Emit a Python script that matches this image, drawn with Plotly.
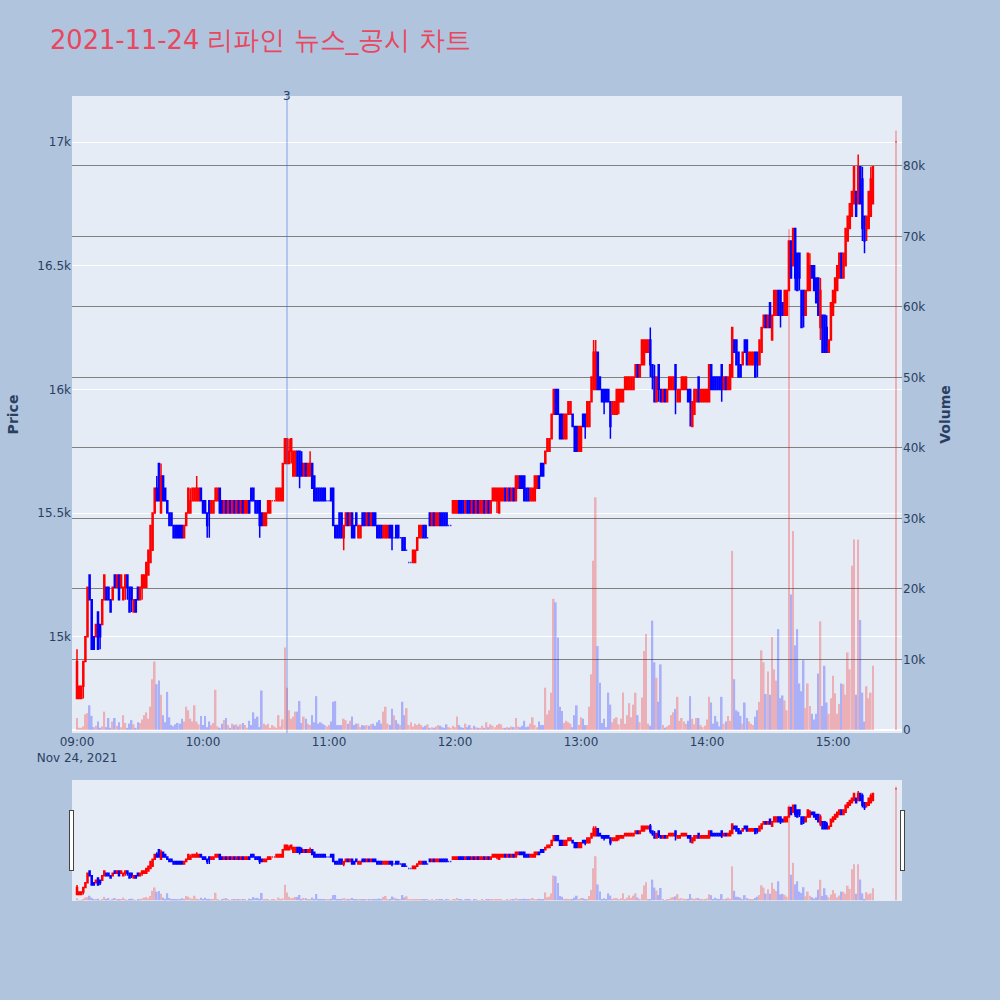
import pandas as pd
import plotly.graph_objects as go

title_text = "2021-11-24 리파인 뉴스_공시 차트"
news_time = "2021-11-24 10:40"
news_label = "3"

# 1-minute bars 09:00-15:19 plus the 15:30 closing auction
times = list(pd.date_range("2021-11-24 09:00", periods=380, freq="min")) + [pd.Timestamp("2021-11-24 15:30")]

opens = [
    14750, 14750, 14750, 14800, 14900, 15000, 15250, 15150, 15000, 15000,
    15100, 15050, 15050, 15150, 15200, 15200, 15150, 15150, 15250, 15200,
    15250, 15200, 15150, 15200, 15250, 15200, 15200, 15100, 15150, 15200,
    15150, 15200, 15200, 15200, 15250, 15300, 15350, 15500, 15600, 15700,
    15500, 15650, 15600, 15550, 15500, 15500, 15450, 15450, 15450, 15450,
    15450, 15400, 15450, 15500, 15500, 15550, 15550, 15550, 15550, 15600,
    15550, 15550, 15500, 15550, 15500, 15500, 15550, 15550, 15600, 15550,
    15500, 15550, 15500, 15550, 15500, 15550, 15500, 15550, 15500, 15550,
    15500, 15500, 15550, 15600, 15600, 15550, 15550, 15550, 15500, 15450,
    15450, 15500, 15500, 15550, 15550, 15550, 15550, 15550, 15550, 15700,
    15700, 15700, 15750, 15650, 15650, 15750, 15750, 15700, 15650, 15700,
    15650, 15650, 15700, 15650, 15600, 15600, 15600, 15600, 15600, 15550,
    15550, 15600, 15600, 15450, 15450, 15500, 15500, 15400, 15450, 15500,
    15450, 15500, 15450, 15500, 15400, 15400, 15500, 15500, 15450, 15500,
    15450, 15500, 15500, 15450, 15450, 15450, 15400, 15400, 15400, 15450,
    15450, 15400, 15450, 15450, 15400, 15400, 15400, 15350, 15300, 15300,
    15300, 15300, 15350, 15400, 15400, 15450, 15450, 15400, 15500, 15450,
    15500, 15450, 15450, 15500, 15500, 15500, 15500, 15450, 15450, 15500,
    15500, 15500, 15550, 15550, 15550, 15500, 15550, 15550, 15500, 15550,
    15500, 15550, 15500, 15500, 15550, 15500, 15550, 15500, 15550, 15550,
    15550, 15500, 15550, 15550, 15600, 15550, 15600, 15550, 15600, 15550,
    15600, 15650, 15650, 15650, 15600, 15600, 15550, 15550, 15550, 15600,
    15650, 15700, 15700, 15700, 15750, 15750, 15800, 15900, 16000, 16000,
    15900, 15900, 15800, 15800, 15900, 15900, 15900, 15850, 15850, 15750,
    15750, 15900, 15900, 15850, 15850, 15950, 16000, 16000, 16150, 16050,
    16000, 16000, 16000, 16000, 15950, 15900, 15900, 15900, 15950, 15950,
    15950, 16000, 16000, 16000, 16000, 16000, 16050, 16100, 16050, 16100,
    16100, 16150, 16150, 16200, 16100, 16050, 15950, 16100, 16000, 15950,
    16000, 15950, 16000, 16000, 16000, 16100, 15950, 15950, 16000, 16000,
    16000, 16000, 16000, 15850, 15900, 15950, 16050, 15950, 15950, 15950,
    15950, 15950, 16100, 16050, 16050, 16050, 16050, 16100, 16000, 16050,
    16000, 16000, 16050, 16200, 16200, 16150, 16100, 16100, 16200, 16200,
    16100, 16100, 16100, 16150, 16150, 16100, 16150, 16250, 16300, 16250,
    16350, 16200, 16300, 16300, 16400, 16400, 16350, 16300, 16300, 16400,
    16600, 16500, 16650, 16550, 16550, 16400, 16400, 16300, 16400, 16400,
    16500, 16500, 16450, 16450, 16250, 16300, 16300, 16250, 16150, 16200,
    16300, 16350, 16400, 16450, 16550, 16450, 16500, 16600, 16650, 16700,
    16750, 16800, 16750, 16900, 16850, 16700, 16650, 16650, 16700, 16750,
    17000,
]

highs = [
    14950, 14800, 14800, 14900, 15000, 15200, 15250, 15150, 15000, 15050,
    15100, 15050, 15150, 15250, 15200, 15200, 15150, 15200, 15250, 15250,
    15250, 15250, 15200, 15250, 15250, 15200, 15200, 15150, 15150, 15200,
    15200, 15250, 15250, 15300, 15350, 15450, 15500, 15600, 15650, 15700,
    15700, 15650, 15600, 15550, 15500, 15500, 15450, 15450, 15450, 15450,
    15450, 15450, 15500, 15600, 15600, 15600, 15600, 15650, 15600, 15600,
    15550, 15550, 15500, 15550, 15550, 15550, 15600, 15600, 15600, 15550,
    15550, 15550, 15550, 15550, 15550, 15550, 15550, 15550, 15550, 15550,
    15550, 15550, 15550, 15600, 15600, 15550, 15550, 15550, 15500, 15500,
    15500, 15550, 15550, 15550, 15550, 15600, 15600, 15600, 15700, 15800,
    15800, 15800, 15800, 15750, 15750, 15750, 15750, 15750, 15700, 15700,
    15700, 15750, 15700, 15650, 15600, 15600, 15600, 15600, 15600, 15550,
    15550, 15600, 15600, 15450, 15450, 15500, 15500, 15450, 15500, 15500,
    15500, 15500, 15450, 15500, 15450, 15450, 15500, 15500, 15500, 15500,
    15500, 15500, 15500, 15450, 15450, 15450, 15450, 15450, 15450, 15450,
    15450, 15400, 15450, 15450, 15400, 15400, 15400, 15350, 15300, 15300,
    15350, 15350, 15400, 15450, 15450, 15450, 15450, 15400, 15500, 15500,
    15500, 15500, 15500, 15500, 15500, 15500, 15500, 15450, 15450, 15550,
    15550, 15550, 15550, 15550, 15550, 15550, 15550, 15550, 15550, 15550,
    15550, 15550, 15550, 15550, 15550, 15550, 15550, 15550, 15600, 15600,
    15600, 15600, 15600, 15600, 15600, 15600, 15600, 15600, 15600, 15650,
    15650, 15650, 15650, 15650, 15600, 15600, 15600, 15600, 15650, 15650,
    15650, 15700, 15700, 15750, 15800, 15800, 15900, 16000, 16000, 16000,
    15900, 15900, 15900, 15900, 15950, 15950, 15900, 15850, 15850, 15850,
    15850, 15900, 15900, 15950, 15950, 16050, 16200, 16200, 16150, 16050,
    16000, 16000, 16000, 16000, 15950, 15950, 15950, 16000, 16000, 16000,
    16000, 16050, 16050, 16050, 16050, 16050, 16100, 16100, 16100, 16200,
    16200, 16200, 16200, 16250, 16100, 16100, 16050, 16100, 16000, 16000,
    16000, 16000, 16050, 16050, 16050, 16100, 16000, 16000, 16050, 16050,
    16050, 16000, 16000, 15950, 16000, 16000, 16050, 16000, 16000, 16000,
    16000, 16100, 16100, 16050, 16050, 16050, 16050, 16100, 16050, 16050,
    16050, 16100, 16250, 16200, 16200, 16150, 16100, 16150, 16200, 16200,
    16150, 16150, 16150, 16150, 16150, 16200, 16250, 16300, 16300, 16300,
    16350, 16300, 16400, 16400, 16400, 16400, 16350, 16400, 16400, 16600,
    16600, 16650, 16650, 16550, 16550, 16400, 16400, 16400, 16550, 16550,
    16500, 16500, 16450, 16450, 16450, 16300, 16300, 16300, 16200, 16350,
    16400, 16450, 16500, 16550, 16550, 16550, 16650, 16700, 16750, 16800,
    16900, 16800, 16950, 16900, 16900, 16700, 16700, 16800, 16900, 16900,
    17000,
]

lows = [
    14750, 14750, 14750, 14750, 14900, 15000, 15150, 14950, 14950, 15000,
    14950, 14950, 15050, 15150, 15150, 15150, 15100, 15150, 15200, 15200,
    15150, 15200, 15150, 15150, 15150, 15100, 15100, 15100, 15100, 15150,
    15150, 15150, 15200, 15200, 15250, 15300, 15350, 15500, 15550, 15550,
    15500, 15550, 15550, 15500, 15450, 15450, 15400, 15400, 15400, 15400,
    15400, 15400, 15450, 15500, 15500, 15550, 15550, 15550, 15550, 15550,
    15500, 15500, 15400, 15400, 15500, 15500, 15550, 15550, 15500, 15500,
    15500, 15500, 15500, 15500, 15500, 15500, 15500, 15500, 15500, 15500,
    15500, 15500, 15500, 15550, 15550, 15500, 15500, 15400, 15450, 15450,
    15450, 15500, 15500, 15550, 15550, 15550, 15550, 15550, 15550, 15700,
    15700, 15700, 15700, 15650, 15650, 15650, 15600, 15650, 15650, 15650,
    15650, 15650, 15600, 15550, 15550, 15550, 15550, 15550, 15550, 15550,
    15550, 15550, 15450, 15400, 15400, 15400, 15400, 15350, 15450, 15450,
    15450, 15400, 15400, 15450, 15400, 15400, 15450, 15450, 15450, 15450,
    15450, 15450, 15450, 15400, 15400, 15400, 15400, 15400, 15400, 15400,
    15350, 15400, 15400, 15400, 15400, 15350, 15350, 15350, 15300, 15300,
    15300, 15300, 15350, 15400, 15400, 15400, 15400, 15400, 15450, 15450,
    15450, 15450, 15450, 15450, 15450, 15450, 15450, 15450, 15450, 15500,
    15500, 15500, 15500, 15500, 15500, 15500, 15500, 15500, 15500, 15500,
    15500, 15500, 15500, 15500, 15500, 15500, 15500, 15500, 15550, 15550,
    15500, 15500, 15550, 15550, 15550, 15550, 15550, 15550, 15550, 15550,
    15600, 15600, 15600, 15550, 15550, 15550, 15550, 15550, 15550, 15600,
    15600, 15650, 15650, 15700, 15750, 15750, 15800, 15900, 15900, 15900,
    15800, 15800, 15800, 15800, 15900, 15900, 15850, 15750, 15750, 15750,
    15750, 15850, 15800, 15850, 15850, 15950, 16000, 16000, 16000, 16000,
    15950, 15900, 15950, 15950, 15800, 15900, 15900, 15900, 15900, 15950,
    15950, 16000, 16000, 16000, 16000, 16000, 16050, 16050, 16050, 16100,
    16100, 16150, 16150, 16050, 16000, 15950, 15950, 15950, 15950, 15950,
    15950, 15950, 16000, 16000, 16000, 15900, 15950, 15950, 16000, 16000,
    16000, 15950, 15850, 15850, 15900, 15950, 15950, 15950, 15950, 15950,
    15950, 15950, 16000, 16000, 16000, 16000, 16000, 15950, 16000, 16000,
    16000, 16000, 16050, 16150, 16100, 16050, 16050, 16100, 16150, 16100,
    16100, 16100, 16100, 16050, 16050, 16100, 16150, 16250, 16250, 16250,
    16250, 16200, 16300, 16300, 16300, 16250, 16300, 16300, 16300, 16400,
    16450, 16500, 16400, 16400, 16400, 16250, 16250, 16300, 16400, 16400,
    16450, 16400, 16350, 16300, 16200, 16150, 16150, 16150, 16150, 16200,
    16300, 16350, 16400, 16450, 16450, 16450, 16500, 16600, 16650, 16700,
    16750, 16700, 16750, 16750, 16600, 16550, 16600, 16650, 16700, 16750,
    17000,
]

closes = [
    14900, 14800, 14800, 14900, 15000, 15200, 15150, 14950, 14950, 15050,
    14950, 15000, 15150, 15250, 15150, 15150, 15100, 15200, 15200, 15250,
    15150, 15250, 15200, 15250, 15200, 15100, 15150, 15150, 15100, 15150,
    15200, 15250, 15250, 15300, 15350, 15450, 15500, 15600, 15550, 15550,
    15650, 15550, 15550, 15500, 15450, 15450, 15400, 15400, 15400, 15400,
    15400, 15450, 15500, 15600, 15550, 15600, 15600, 15600, 15600, 15550,
    15500, 15500, 15450, 15500, 15550, 15550, 15600, 15600, 15500, 15500,
    15550, 15500, 15550, 15500, 15550, 15500, 15550, 15500, 15550, 15500,
    15550, 15550, 15500, 15550, 15550, 15500, 15500, 15450, 15450, 15500,
    15500, 15550, 15550, 15550, 15550, 15600, 15600, 15600, 15700, 15800,
    15800, 15750, 15800, 15750, 15750, 15650, 15650, 15650, 15700, 15650,
    15700, 15700, 15600, 15550, 15550, 15550, 15550, 15550, 15550, 15550,
    15550, 15550, 15450, 15400, 15400, 15400, 15400, 15450, 15500, 15450,
    15500, 15400, 15400, 15450, 15450, 15450, 15450, 15450, 15500, 15450,
    15500, 15450, 15450, 15400, 15400, 15400, 15450, 15450, 15450, 15400,
    15400, 15400, 15400, 15400, 15400, 15350, 15350, 15350, 15300, 15300,
    15350, 15350, 15400, 15450, 15450, 15400, 15400, 15400, 15450, 15500,
    15450, 15500, 15500, 15450, 15450, 15450, 15450, 15450, 15450, 15550,
    15550, 15550, 15500, 15500, 15500, 15550, 15500, 15500, 15550, 15500,
    15550, 15500, 15550, 15550, 15500, 15550, 15500, 15550, 15600, 15600,
    15600, 15600, 15600, 15600, 15550, 15600, 15550, 15600, 15550, 15650,
    15650, 15600, 15600, 15550, 15550, 15550, 15600, 15600, 15650, 15650,
    15600, 15650, 15650, 15750, 15800, 15800, 15900, 16000, 15900, 15900,
    15800, 15800, 15900, 15900, 15950, 15950, 15850, 15750, 15750, 15850,
    15850, 15850, 15850, 15950, 15950, 16050, 16150, 16150, 16000, 16000,
    15950, 15950, 15950, 15950, 15850, 15950, 15950, 16000, 16000, 16000,
    16000, 16050, 16050, 16050, 16050, 16050, 16100, 16050, 16100, 16200,
    16200, 16200, 16200, 16100, 16050, 15950, 16050, 16000, 15950, 16000,
    15950, 16000, 16050, 16050, 16050, 16000, 16000, 16000, 16050, 16050,
    16050, 15950, 15950, 15950, 16000, 16000, 15950, 16000, 16000, 16000,
    16000, 16100, 16000, 16000, 16000, 16000, 16000, 16000, 16050, 16000,
    16050, 16100, 16250, 16150, 16100, 16050, 16050, 16150, 16150, 16100,
    16150, 16150, 16150, 16050, 16100, 16200, 16250, 16300, 16250, 16300,
    16250, 16300, 16400, 16400, 16300, 16300, 16300, 16400, 16400, 16600,
    16450, 16650, 16450, 16400, 16450, 16250, 16300, 16400, 16550, 16500,
    16450, 16400, 16350, 16300, 16400, 16150, 16150, 16150, 16200, 16350,
    16400, 16450, 16500, 16550, 16450, 16550, 16650, 16700, 16750, 16800,
    16900, 16700, 16900, 16750, 16650, 16600, 16700, 16800, 16850, 16900,
    17000,
]

volumes = [
    1700, 300, 300, 500, 2200, 2400, 3500, 2000, 400, 600,
    1200, 300, 500, 2600, 400, 1700, 300, 1200, 1700, 600,
    1100, 400, 2100, 1000, 300, 900, 1400, 800, 300, 1100,
    1000, 1500, 2100, 2500, 1600, 3300, 7200, 9700, 6500, 7000,
    5000, 2100, 1100, 5400, 1800, 700, 500, 800, 1000, 900,
    1600, 1200, 3300, 2800, 1600, 1200, 3500, 1200, 800, 2000,
    700, 2000, 400, 1200, 700, 1000, 5700, 500, 300, 900,
    1400, 1700, 700, 300, 900, 700, 800, 500, 800, 1000,
    700, 300, 1300, 700, 2500, 1600, 1900, 400, 5600, 900,
    700, 900, 300, 700, 500, 300, 2100, 500, 1500, 11700,
    6000, 2800, 1600, 1900, 2600, 2600, 4100, 1000, 1900, 1600,
    900, 700, 2100, 1100, 4800, 900, 1100, 900, 700, 500,
    700, 1200, 4000, 4100, 700, 700, 700, 1600, 1400, 900,
    1300, 1900, 700, 900, 900, 400, 700, 600, 700, 600,
    800, 900, 600, 1100, 1400, 900, 2600, 3300, 900, 700,
    3000, 2100, 1400, 900, 700, 4000, 2100, 3100, 700, 1100,
    500, 900, 700, 900, 700, 400, 600, 800, 300, 400,
    300, 500, 700, 600, 400, 300, 800, 400, 300, 600,
    400, 1900, 700, 400, 300, 900, 400, 700, 300, 600,
    400, 300, 300, 600, 300, 1100, 400, 800, 600, 400,
    700, 900, 800, 300, 300, 400, 300, 500, 400, 1700,
    500, 400, 600, 1300, 400, 500, 900, 1800, 700, 400,
    1200, 700, 700, 6000, 2200, 2800, 5300, 18600, 18100, 13100,
    3300, 2700, 1000, 1300, 1100, 900, 400, 2100, 3500, 700,
    1800, 1600, 700, 700, 3300, 7900, 24000, 33000, 11900, 6700,
    1000, 1600, 400, 5300, 3600, 1100, 1600, 1800, 800, 1600,
    5300, 900, 2100, 3800, 1800, 3600, 5300, 2100, 1100, 4600,
    11200, 13600, 900, 600, 15500, 9600, 7400, 4000, 9300, 700,
    300, 500, 700, 2100, 2500, 3000, 4700, 1300, 1700, 1200,
    900, 1300, 4800, 1600, 800, 1700, 1700, 700, 400, 600,
    1500, 4700, 3900, 900, 2000, 1200, 500, 4700, 900, 1200,
    2000, 1300, 25400, 7200, 2800, 2600, 2000, 900, 3900, 1700,
    1200, 900, 700, 1900, 2800, 4000, 11300, 9600, 5100, 8300,
    5000, 13200, 8600, 7000, 14300, 4500, 4900, 4200, 2800, 71000,
    19200, 28200, 12000, 14300, 6600, 5500, 9900, 3100, 6600, 3400,
    2300, 1500, 2300, 8000, 15400, 3400, 9100, 3900, 2300, 4500,
    7700, 5200, 2300, 3700, 6600, 6500, 5000, 11000, 8600, 23300,
    27000, 5000, 27000, 15600, 5300, 1200, 6200, 4500, 5300, 9100,
    85000,
]

vol_colors = ["red" if c >= o else "blue" for o, c in zip(opens, closes)]

fig = go.Figure()
fig.add_trace(go.Candlestick(
    x=times, open=opens, high=highs, low=lows, close=closes,
    increasing=dict(line=dict(color="red", width=1.5), fillcolor="red"),
    decreasing=dict(line=dict(color="blue", width=1.5), fillcolor="blue"),
    yaxis="y", showlegend=False, name="Price",
))
fig.add_trace(go.Bar(
    x=times, y=volumes, marker=dict(color=vol_colors, line=dict(width=0)),
    opacity=0.25, yaxis="y2", showlegend=False, name="Volume",
))

fig.add_shape(type="line", x0=news_time, x1=news_time, y0=0, y1=1,
              xref="x", yref="paper", line=dict(color="royalblue", width=2), opacity=0.3)
fig.add_annotation(x=news_time, y=1, xref="x", yref="paper", text=news_label,
                   showarrow=False, yanchor="middle")

fig.update_layout(
    width=1000, height=1000,
    font=dict(family="DejaVu Sans, Verdana, sans-serif"),
    paper_bgcolor="lightsteelblue",
    title=dict(text=title_text, font=dict(size=25.7, color="#E8475F"), x=0.05, xanchor="left",
               y=0.96, yanchor="middle"),
    margin=dict(l=72, r=98, t=96, b=100),
    showlegend=False,
    xaxis=dict(range=["2021-11-24 08:57:37", "2021-11-24 15:32:51"], showgrid=False,
               rangeslider=dict(visible=True)),
    yaxis=dict(title=dict(text="<b>Price</b>"), range=[14611, 17186]),
    yaxis2=dict(title=dict(text="<b>Volume</b>"), overlaying="y", side="right",
                range=[-427, 89900], showgrid=True, gridcolor="grey"),
)

fig.write_html("out.html", config={"displayModeBar": False},
               post_script="document.body.style.margin='0';")
